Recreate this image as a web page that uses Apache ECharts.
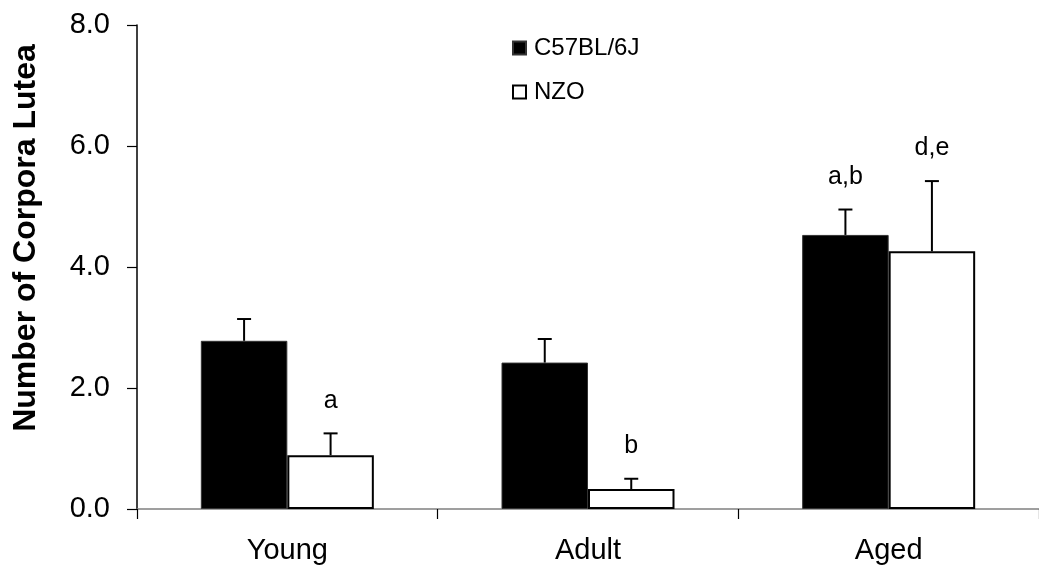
<!DOCTYPE html>
<html>
<head>
<meta charset="utf-8">
<script src="https://cdn.jsdelivr.net/npm/echarts@6/dist/echarts.min.js"></script>
<style>
html,body{margin:0;padding:0;background:#fff;}
#chart{width:1039px;height:578px;}
</style>
</head>
<body>
<div id="chart"></div>
<script>
const categories = ['Young', 'Adult', 'Aged'];
const seriesNames = ['C57BL/6J', 'NZO'];
const c57Mean = [2.78, 2.42, 4.53];
const c57Err = [0.36, 0.39, 0.42];
const nzoMean = [0.89, 0.33, 4.26];
const nzoErr = [0.36, 0.17, 1.16];
const c57Labels = ['', '', 'a,b'];
const nzoLabels = ['a', 'b', 'd,e'];
const yTicks = [0, 2, 4, 6, 8];
const yTitle = 'Number of Corpora Lutea';

const FONT = '"Liberation Sans", Arial, sans-serif';
const BAR_W = 86.5;

function errSeries(means, errs, labels, side) {
  return {
    type: 'custom',
    z: 5,
    data: means.map((m, i) => [i, m, m + errs[i], labels[i]]),
    renderItem: function (params, api) {
      const idx = api.value(0);
      const base = api.coord([idx, api.value(1)]);
      const top = api.coord([idx, api.value(2)]);
      const x = base[0] + side * BAR_W / 2;
      const cap = 7;
      const style = { stroke: '#000', lineWidth: 2 };
      const children = [
        { type: 'line', shape: { x1: x, y1: base[1], x2: x, y2: top[1] }, style: style },
        { type: 'line', shape: { x1: x - cap, y1: top[1], x2: x + cap, y2: top[1] }, style: style }
      ];
      const lab = labels[params.dataIndex];
      if (lab) {
        children.push({
          type: 'text',
          style: {
            text: lab, x: x, y: top[1] - 20,
            textAlign: 'center', textVerticalAlign: 'bottom',
            font: '25px ' + FONT, fill: '#000'
          }
        });
      }
      return { type: 'group', children: children };
    }
  };
}

const chart = echarts.init(document.getElementById('chart'));
chart.setOption({
  animation: false,
  backgroundColor: '#fff',
  grid: { left: 137, width: 906, top: 25, bottom: 69 },
  legend: {
    data: seriesNames,
    orient: 'vertical',
    left: 507,
    top: 31,
    itemWidth: 13,
    itemHeight: 13,
    itemGap: 20,
    icon: 'rect',
    textStyle: { fontFamily: FONT, fontSize: 24, color: '#000', padding: [0, 0, 0, 3] }
  },
  xAxis: {
    type: 'category',
    data: categories,
    axisLine: { lineStyle: { color: '#808080', width: 1.5 } },
    axisTick: { show: true, length: 10, lineStyle: { color: '#000', width: 1.2 } },
    axisLabel: { fontFamily: FONT, fontSize: 29, color: '#000', margin: 27 }
  },
  yAxis: {
    type: 'value',
    min: yTicks[0],
    max: yTicks[yTicks.length - 1],
    interval: 2,
    axisLine: { show: true, lineStyle: { color: '#000', width: 1.5 } },
    axisTick: { show: true, length: 10, lineStyle: { color: '#000', width: 1.2 } },
    splitLine: { show: false },
    axisLabel: {
      fontFamily: FONT, fontSize: 29, color: '#000', margin: 27,
      formatter: v => v.toFixed(1)
    }
  },
  graphic: [{
    type: 'text',
    rotation: Math.PI / 2,
    x: 26, y: 238,
    style: {
      text: yTitle,
      font: 'bold 32px ' + FONT,
      fill: '#000',
      textAlign: 'center',
      textVerticalAlign: 'middle'
    }
  }],
  series: [
    {
      name: seriesNames[0], type: 'bar', data: c57Mean, barWidth: BAR_W, barGap: '0%',
      itemStyle: { color: '#000', borderColor: '#333', borderWidth: 1 }
    },
    {
      name: seriesNames[1], type: 'bar', data: nzoMean, barWidth: BAR_W, barGap: '0%',
      itemStyle: { color: '#fff', borderColor: '#000', borderWidth: 2 }
    },
    errSeries(c57Mean, c57Err, c57Labels, -1),
    errSeries(nzoMean, nzoErr, nzoLabels, 1)
  ]
});
</script>
</body>
</html>
